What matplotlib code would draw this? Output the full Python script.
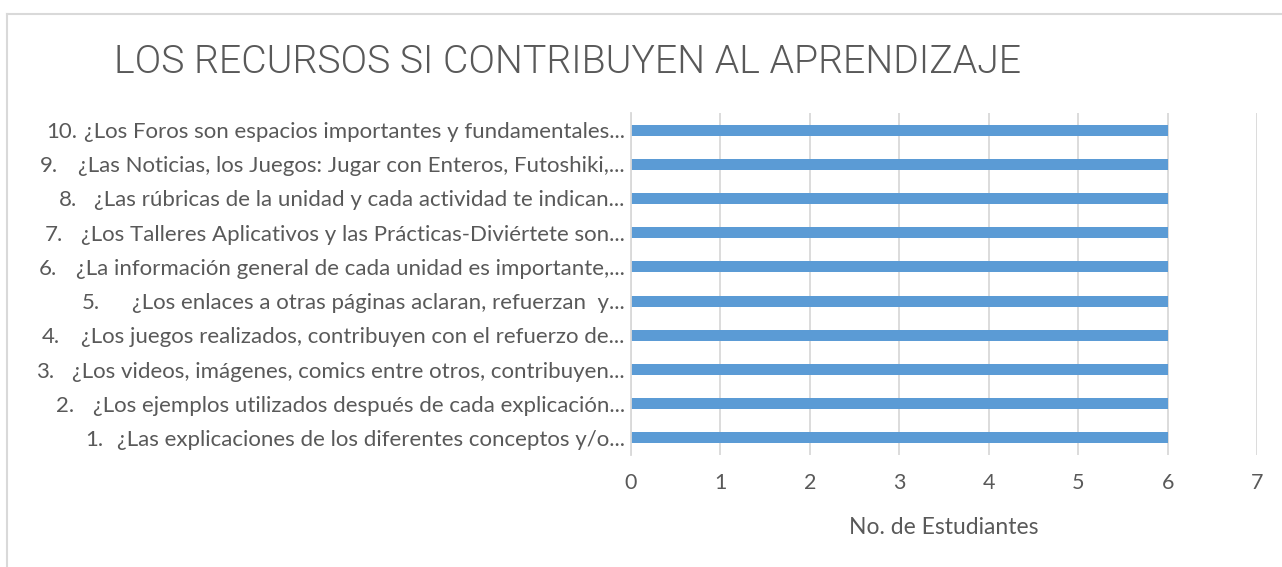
import matplotlib
matplotlib.use("Agg")
import matplotlib.pyplot as plt
from matplotlib.lines import Line2D

# preguntas (de abajo hacia arriba, como en el gráfico)
numeros = ["1.", "2.", "3.", "4.", "5.", "6.", "7.", "8.", "9.", "10."]
preguntas = [
    "¿Las explicaciones de los diferentes conceptos y/o...",
    "¿Los ejemplos utilizados después de cada explicación...",
    "¿Los videos, imágenes, comics entre otros, contribuyen...",
    "¿Los juegos realizados, contribuyen con el refuerzo de...",
    "¿Los enlaces a otras páginas aclaran, refuerzan  y...",
    "¿La información general de cada unidad es importante,...",
    "¿Los Talleres Aplicativos y las Prácticas-Diviértete son...",
    "¿Las rúbricas de la unidad y cada actividad te indican...",
    "¿Las Noticias, los Juegos: Jugar con Enteros, Futoshiki,...",
    "¿Los Foros son espacios importantes y fundamentales...",
]
estudiantes = [6, 6, 6, 6, 6, 6, 6, 6, 6, 6]
x_ticks = [0, 1, 2, 3, 4, 5, 6, 7]

titulo = "LOS RECURSOS SI CONTRIBUYEN AL APRENDIZAJE"
eje_x = "No. de Estudiantes"

# separación (px) entre el número y la pregunta (tabulaciones del original)
sangria = [32, 37, 36, 40, 50, 37, 36, 35, 38, 38]

plt.rcParams['font.family'] = ['Lato', 'DejaVu Sans']
gris = "#595959"
fuente_tit = ['Roboto', 'DejaVu Sans']

W, H = 1282, 567
fig = plt.figure(figsize=(W / 100, H / 100), dpi=100)
ax = fig.add_axes([631 / W, 1 - 455 / H, (1257 - 631) / W, (455 - 113) / H])
r = fig.canvas.get_renderer()


def ancho(txt, size, **kw):
    t = fig.text(0, 0, txt, fontsize=size, **kw)
    w = t.get_window_extent(r).width
    t.remove()
    return w


# tamaños ajustados al ancho del original
t_lab = 15 * 542 / ancho(preguntas[-1], 15)
t_tit = 22 * 905 / ancho(titulo, 22, family=fuente_tit, fontweight=300)

ax.barh(range(len(preguntas)), estudiantes, height=0.32, color="#5B9BD5")
ax.set_xlim(0, 7)
ax.set_ylim(-0.5, len(preguntas) - 0.5)
ax.set_xticks(x_ticks)
ax.set_yticks(range(len(preguntas)))
ax.set_yticklabels(preguntas, fontsize=t_lab, color=gris)
ax.tick_params(axis='x', labelsize=15.5, labelcolor=gris, length=0, pad=13)
ax.tick_params(axis='y', length=0, pad=4.5)
ax.grid(axis='x', color="#D9D9D9", linewidth=1.3)
ax.set_axisbelow(True)
for s in ['top', 'right', 'bottom']:
    ax.spines[s].set_visible(False)
ax.spines['left'].set_color("#D9D9D9")
ax.spines['left'].set_linewidth(1.3)
ax.set_xlabel(eje_x, fontsize=16.5, color=gris, labelpad=17)

fig.text(568 / W, 1 - 62 / H, titulo, fontsize=t_tit, color=gris,
         family=fuente_tit, fontweight=300, ha='center', va='center')

# números de cada pregunta, a la izquierda del texto
fig.canvas.draw()
for lab, num, gap in zip(ax.get_yticklabels(), numeros, sangria):
    bb = lab.get_window_extent(r)
    fig.text((bb.x0 - gap) / W, (bb.y0 + bb.y1) / 2 / H, num,
             fontsize=t_lab, color=gris, ha='left', va='center')

# marco del área del gráfico
fig.add_artist(Line2D([7 / W, 1], [1 - 13.5 / H, 1 - 13.5 / H],
                      transform=fig.transFigure, color="#D9D9D9", lw=1.5))
fig.add_artist(Line2D([7 / W, 7 / W], [0, 1 - 13.5 / H],
                      transform=fig.transFigure, color="#D9D9D9", lw=1.5))

fig.savefig("out.png", dpi=100)
